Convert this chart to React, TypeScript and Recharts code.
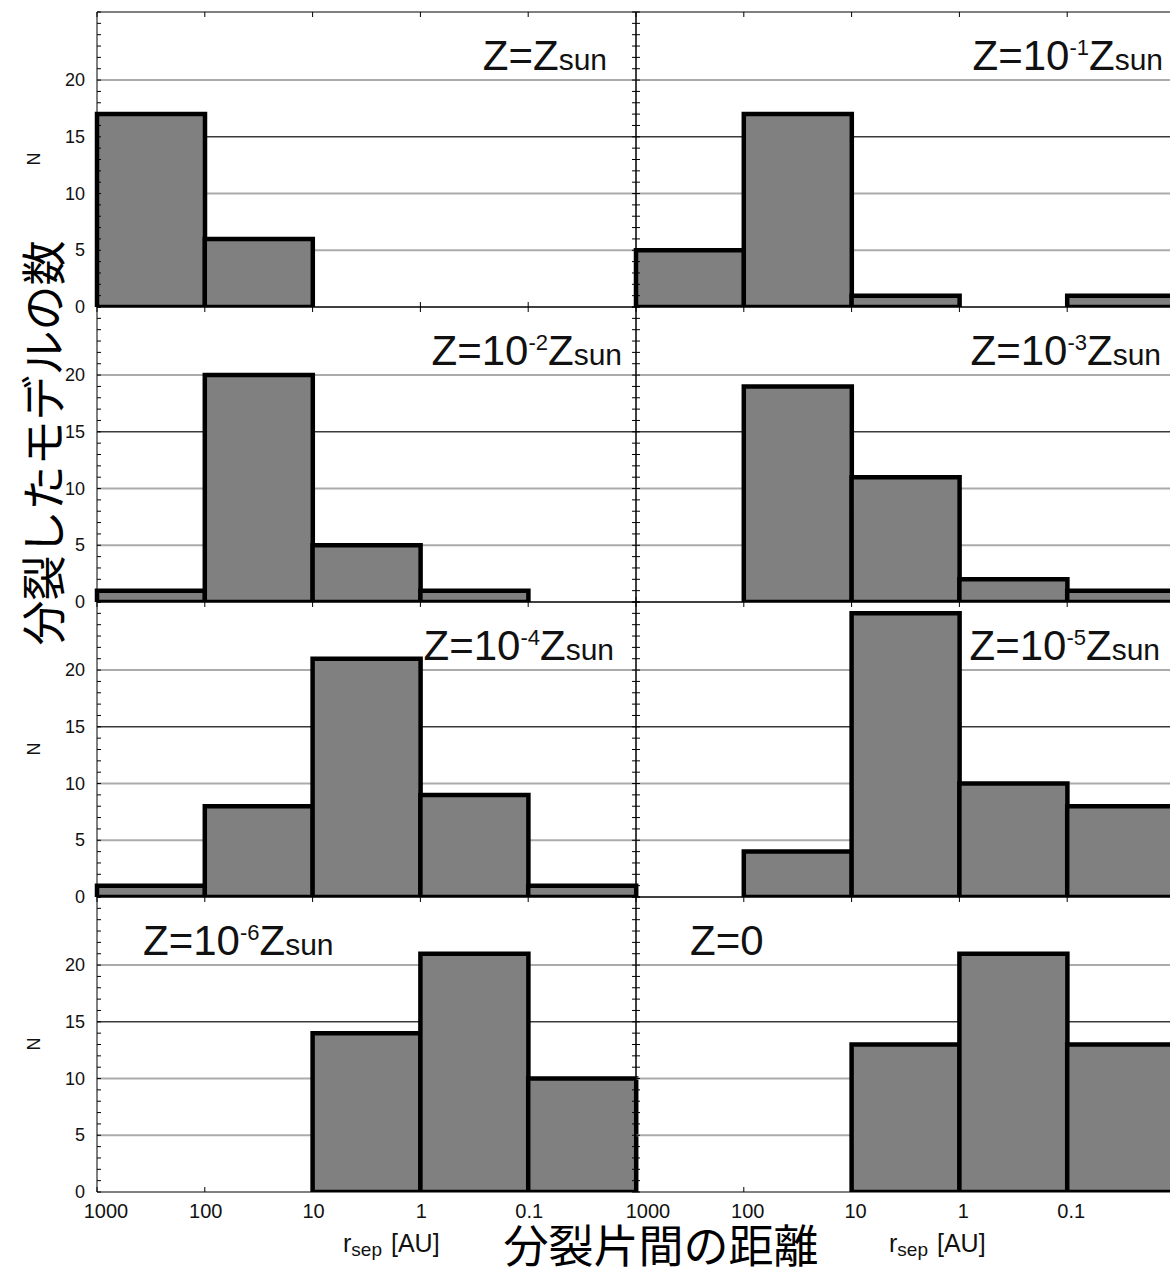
import React from "react";
import { BarChart, Bar, XAxis, YAxis, CartesianGrid } from "recharts";

// bins are one decade wide, running from 1000 AU down to 0.01 AU
const BINS = ["1000-100", "100-10", "10-1", "1-0.1", "0.1-0.01"];
const EDGE_LABELS = ["1000", "100", "10", "1", "0.1"]; // left edge of each bin
const N_TICKS = Array.from({ length: 27 }, (_, i) => i);
const N_LABELS = [0, 5, 10, 15, 20];

// number of fragmented models per separation bin
const nZsun = [17, 6, 0, 0, 0];
const nZm1 = [5, 17, 1, 0, 1];
const nZm2 = [1, 20, 5, 1, 0];
const nZm3 = [0, 19, 11, 2, 1];
const nZm4 = [1, 8, 21, 9, 1];
const nZm5 = [0, 4, 25, 10, 8];
const nZm6 = [0, 0, 14, 21, 10];
const nZ0 = [0, 0, 13, 21, 13];

const FONT = '"Liberation Sans", Arial, Helvetica, sans-serif';
const JP_FONT = '"Noto Sans CJK JP", "Noto Sans CJK SC", sans-serif';

const COL_X = [97, 636];
const ROW_Y = [11.5, 306.5, 601.5, 896.5];
const PLOT_W = 539;
const PLOT_H = 295;
const ML = 70;
const MR = 10;
const MT = 10;
const MB = 45;

type PanelDef = {
  counts: number[];
  col: number;
  row: number;
  exp: string | null; // exponent of 10 in the title, null for Z=Zsun
  zero?: boolean;
  titleX: number;
  anchor: "start" | "end";
};

const PANELS: PanelDef[] = [
  { counts: nZsun, col: 0, row: 0, exp: null, titleX: 607, anchor: "end" },
  { counts: nZm1, col: 1, row: 0, exp: "-1", titleX: 1163, anchor: "end" },
  { counts: nZm2, col: 0, row: 1, exp: "-2", titleX: 622, anchor: "end" },
  { counts: nZm3, col: 1, row: 1, exp: "-3", titleX: 1161, anchor: "end" },
  { counts: nZm4, col: 0, row: 2, exp: "-4", titleX: 614, anchor: "end" },
  { counts: nZm5, col: 1, row: 2, exp: "-5", titleX: 1160, anchor: "end" },
  { counts: nZm6, col: 0, row: 3, exp: "-6", titleX: 143, anchor: "start" },
  { counts: nZ0, col: 1, row: 3, exp: null, zero: true, titleX: 690, anchor: "start" },
];

function LeftTick(props: any) {
  const { x, y, payload, labels } = props;
  const v = payload.value;
  return (
    <g>
      <line x1={x} x2={x + 4} y1={y} y2={y} stroke="#000" strokeWidth={1} />
      {labels && N_LABELS.includes(v) && (
        <text x={x - 12} y={y} textAnchor="end" dominantBaseline="central" fontSize={18} fill="#111" fontFamily={FONT}>
          {v}
        </text>
      )}
    </g>
  );
}

function RightTick(props: any) {
  const { x, y } = props;
  return <line x1={x} x2={x - 4} y1={y} y2={y} stroke="#000" strokeWidth={1} />;
}

// ticks sit on the bin edges: half a band to the left of each category centre
function BottomTick(props: any) {
  const { x, y, index, width, labels, col } = props;
  const edge = x - width / BINS.length / 2;
  const dx = index === 0 ? (col === 0 ? 9 : 12) : col === 0 ? 1 : 4;
  return (
    <g>
      <line x1={edge} x2={edge} y1={y} y2={y - 5} stroke="#000" strokeWidth={1} />
      {labels && (
        <text x={edge + dx} y={y + 26} textAnchor="middle" fontSize={20} fill="#111" fontFamily={FONT}>
          {EDGE_LABELS[index]}
        </text>
      )}
    </g>
  );
}

function TopTick(props: any) {
  const { x, y, width } = props;
  const edge = x - width / BINS.length / 2;
  return <line x1={edge} x2={edge} y1={y} y2={y + 5} stroke="#000" strokeWidth={1} />;
}

function Panel({ def }: { def: PanelDef }) {
  const data = BINS.map((bin, i) => ({ bin, n: def.counts[i] }));
  const showY = def.col === 0;
  const showX = def.row === 3;
  return (
    <div style={{ position: "absolute", left: COL_X[def.col] - ML, top: ROW_Y[def.row] - MT }}>
      <BarChart
        width={PLOT_W + ML + MR}
        height={PLOT_H + MT + MB}
        data={data}
        margin={{ top: 0, right: 0, bottom: 0, left: 0 }}
        barCategoryGap={0}
        barGap={0}
      >
        <CartesianGrid xAxisId="bin" yAxisId="n" vertical={false} horizontalValues={[5, 10, 20]} stroke="#ababab" strokeWidth={2} />
        <CartesianGrid xAxisId="bin" yAxisId="n" vertical={false} horizontalValues={[15]} stroke="#3a3a3a" strokeWidth={1.5} />
        <XAxis
          xAxisId="bin"
          dataKey="bin"
          type="category"
          orientation="bottom"
          interval={0}
          height={MB}
          tickSize={0}
          tickMargin={0}
          tickLine={false}
          axisLine={{ stroke: "#000", strokeWidth: 1 }}
          tick={(p: any) => <BottomTick {...p} labels={showX} col={def.col} />}
        />
        <XAxis
          xAxisId="top"
          dataKey="bin"
          type="category"
          orientation="top"
          interval={0}
          height={MT}
          tickSize={0}
          tickMargin={0}
          tickLine={false}
          axisLine={{ stroke: "#000", strokeWidth: 1 }}
          tick={(p: any) => <TopTick {...p} />}
        />
        <YAxis
          yAxisId="n"
          type="number"
          orientation="left"
          domain={[0, 26]}
          ticks={N_TICKS}
          interval={0}
          allowDataOverflow
          width={ML}
          tickSize={0}
          tickMargin={0}
          tickLine={false}
          axisLine={{ stroke: "#000", strokeWidth: 1 }}
          tick={(p: any) => <LeftTick {...p} labels={showY} />}
        />
        <YAxis
          yAxisId="mirror"
          type="number"
          orientation="right"
          domain={[0, 26]}
          ticks={N_TICKS}
          interval={0}
          allowDataOverflow
          width={MR}
          tickSize={0}
          tickMargin={0}
          tickLine={false}
          axisLine={{ stroke: "#000", strokeWidth: 1 }}
          tick={(p: any) => <RightTick {...p} />}
        />
        <Bar xAxisId="bin" yAxisId="n" dataKey="n" fill="#808080" stroke="#000" strokeWidth={4.5} isAnimationActive={false} />
      </BarChart>
    </div>
  );
}

function Title({ def }: { def: PanelDef }) {
  const baseline = ROW_Y[def.row] + 58;
  return (
    <text x={def.titleX} y={baseline} textAnchor={def.anchor} fontSize={42} fill="#111" fontFamily={FONT}>
      {def.zero ? (
        "Z=0"
      ) : def.exp === null ? (
        <>
          Z=Z<tspan fontSize={30}>sun</tspan>
        </>
      ) : (
        <>
          Z=10
          <tspan fontSize={22} dy={-15}>
            {def.exp}
          </tspan>
          <tspan dy={15}>Z</tspan>
          <tspan fontSize={30}>sun</tspan>
        </>
      )}
    </text>
  );
}

function RsepLabel({ x }: { x: number }) {
  return (
    <text x={x} y={1252} fontSize={25} fill="#111" fontFamily={FONT}>
      r
      <tspan fontSize={19} dy={4}>
        sep
      </tspan>
      <tspan dy={-4} dx={9}>
        [AU]
      </tspan>
    </text>
  );
}

export default function App() {
  return (
    <div
      style={{
        position: "absolute",
        left: 0,
        top: 0,
        width: 1170,
        height: 1272,
        overflow: "hidden",
        background: "#fff",
        fontFamily: FONT,
      }}
    >
      {PANELS.map((def, i) => (
        <Panel key={i} def={def} />
      ))}
      <svg width={1170} height={1272} style={{ position: "absolute", left: 0, top: 0, pointerEvents: "none" }}>
        {PANELS.map((def, i) => (
          <Title key={i} def={def} />
        ))}
        {[0, 2, 3].map((r) => (
          <text
            key={r}
            x={34}
            y={ROW_Y[r] + PLOT_H / 2}
            transform={`rotate(-90 34 ${ROW_Y[r] + PLOT_H / 2})`}
            textAnchor="middle"
            dominantBaseline="central"
            fontSize={18}
            fill="#111"
            fontFamily={FONT}
          >
            N
          </text>
        ))}
        <RsepLabel x={343} />
        <RsepLabel x={889} />
        <text
          x={41}
          y={443}
          transform="rotate(-90 41 443)"
          textAnchor="middle"
          dominantBaseline="central"
          fontSize={45}
          fill="#000"
          fontFamily={JP_FONT}
        >
          分裂したモデルの数
        </text>
        <text x={661} y={1263} textAnchor="middle" fontSize={45} fill="#000" fontFamily={JP_FONT}>
          分裂片間の距離
        </text>
      </svg>
    </div>
  );
}
